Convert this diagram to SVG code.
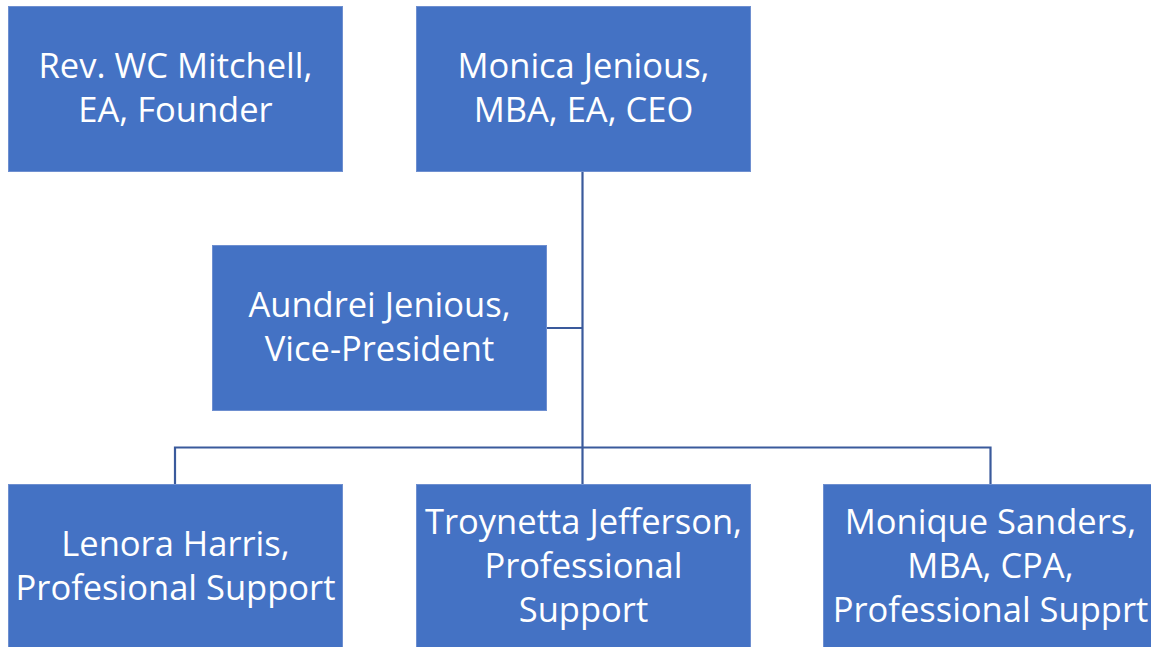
<svg xmlns="http://www.w3.org/2000/svg" width="1151" height="647" viewBox="0 0 1151 647">
<style>
.box{fill:#4472C4;stroke:#6E8FD0;stroke-width:1}
.t{font-family:"Open Sans","Noto Sans","Liberation Sans",sans-serif;font-size:34.5px;fill:#FFFFFF;text-anchor:middle}
.c{fill:none;stroke:#3A5A9C;stroke-width:2.2}
</style>
<rect width="1151" height="647" fill="#FFFFFF"/>
<g id="connectors">
<line class="c" x1="582.5" y1="172" x2="582.5" y2="484"/>
<line class="c" x1="547" y1="328" x2="582.5" y2="328"/>
<polyline class="c" points="175,484 175,447.5 990.5,447.5 990.5,484"/>
</g>
<g id="founder">
<rect class="box" x="8.5" y="6.5" width="334" height="165"/>
<text class="t" x="175.5" y="78">Rev. WC Mitchell,</text>
<text class="t" x="175.5" y="122">EA, Founder</text>
</g>
<g id="ceo">
<rect class="box" x="416.5" y="6.5" width="334" height="165"/>
<text class="t" x="583.5" y="78">Monica Jenious,</text>
<text class="t" x="583.5" y="122">MBA, EA, CEO</text>
</g>
<g id="vp">
<rect class="box" x="212.5" y="245.5" width="334" height="165"/>
<text class="t" x="379.5" y="317">Aundrei Jenious,</text>
<text class="t" x="379.5" y="361">Vice-President</text>
</g>
<g id="lenora">
<rect class="box" x="8.5" y="484.5" width="334" height="165"/>
<text class="t" x="175.5" y="556">Lenora Harris,</text>
<text class="t" x="175.5" y="600">Profesional Support</text>
</g>
<g id="troynetta">
<rect class="box" x="416.5" y="484.5" width="334" height="165"/>
<text class="t" x="583.5" y="534">Troynetta Jefferson,</text>
<text class="t" x="583.5" y="578">Professional</text>
<text class="t" x="583.5" y="622">Support</text>
</g>
<g id="monique">
<rect class="box" x="823.5" y="484.5" width="334" height="165"/>
<text class="t" x="990.5" y="534">Monique Sanders,</text>
<text class="t" x="990.5" y="578">MBA, CPA,</text>
<text class="t" x="990.5" y="622">Professional Supprt</text>
</g>
</svg>
